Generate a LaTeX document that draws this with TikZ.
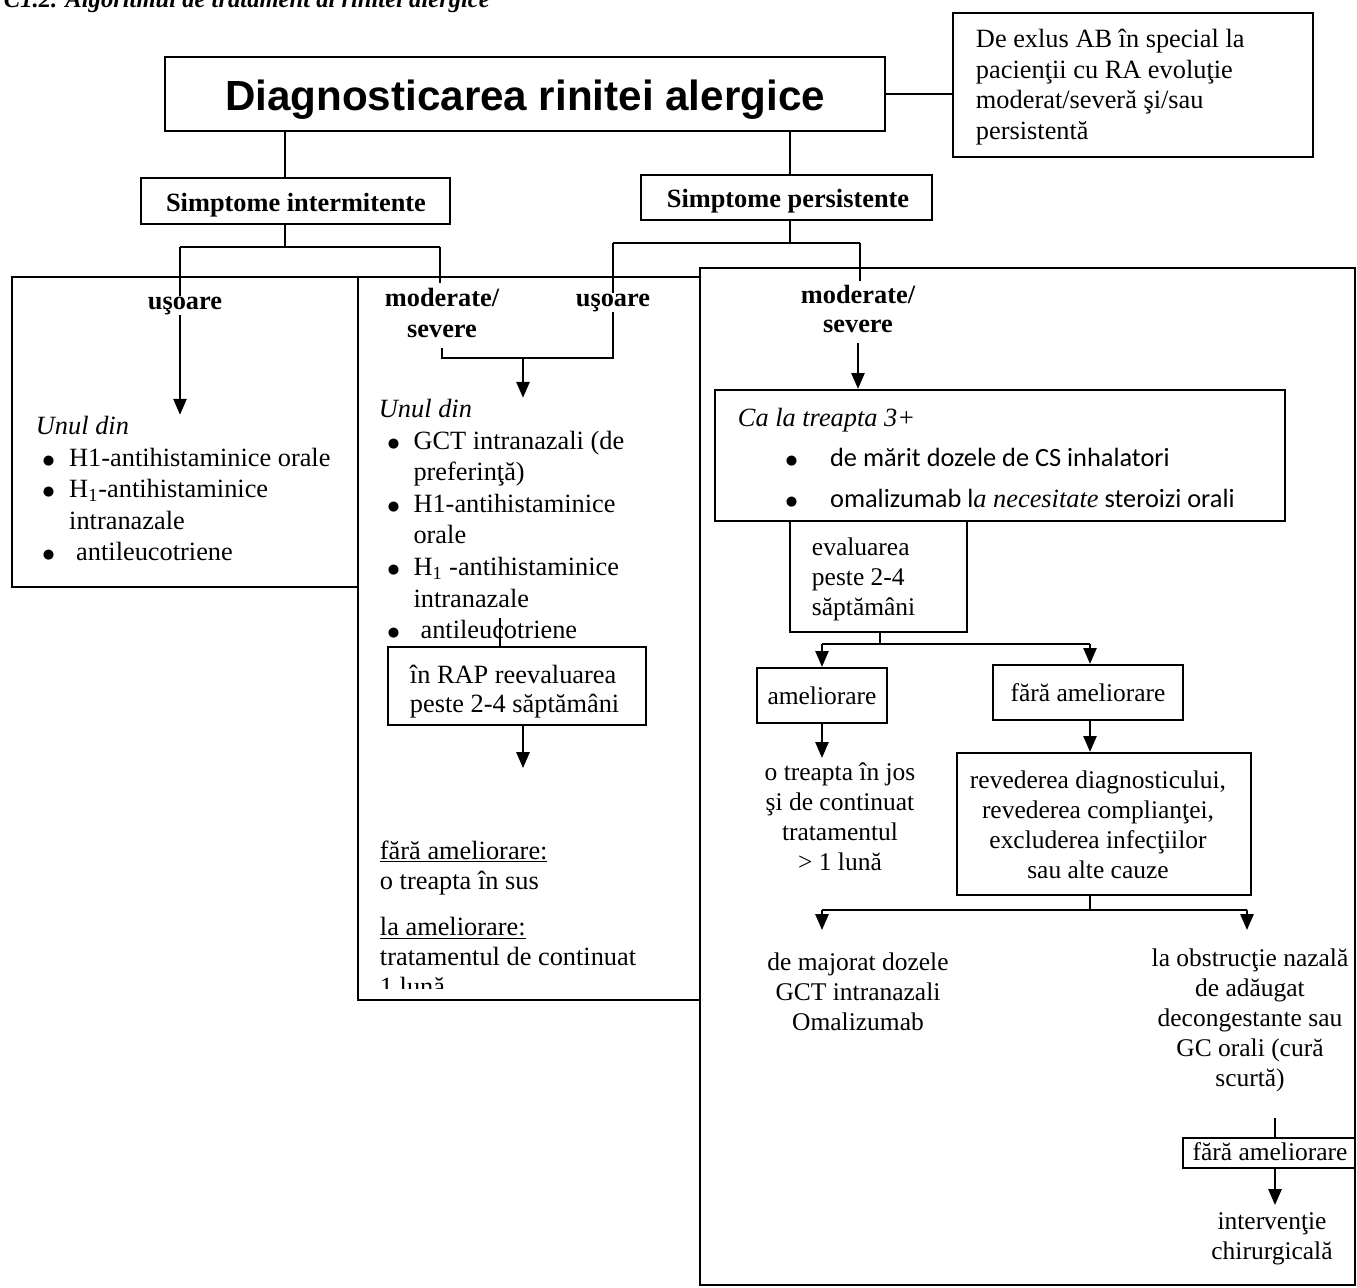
\documentclass[tikz,border=0pt]{standalone}
\usepackage{fontspec}
\setmainfont{Liberation Serif}
\newfontfamily\headfont{Liberation Sans}
\newfontfamily\calfont{Carlito}
\newfontfamily\dotfont{DejaVu Sans}
\usetikzlibrary{arrows.meta,fit}

\newcommand{\txtrows}[2]{\begin{tabular}[t]{@{}#1@{}}#2\end{tabular}}
\newcommand{\dotb}{\raisebox{1.1pt}{\dotfont\fontsize{7.5}{8}\selectfont ●}}

\begin{document}
\begin{tikzpicture}[
    x=0.02cm, y=-0.02cm, line width=1.1pt,
    >={Triangle[length=9pt,width=7.5pt]},
    box/.style={draw, line width=1.3pt, inner sep=0pt},
    txt/.style={inner sep=0pt, font=\fontsize{15}{18}\selectfont},
    rtxt/.style={inner sep=0pt, font=\fontsize{14.5}{17.2}\selectfont},
    lbl/.style={inner sep=0pt, font=\fontsize{15}{18}\selectfont\bfseries}
  ]
  \useasboundingbox (0,0) rectangle (1357,1288);

  % heading, cut by the page edge
  \node[anchor=base west, inner sep=0pt, font=\fontsize{14}{16}\selectfont\bfseries\itshape] (head) at (3,8) {C1.2. Algoritmul de tratament al rinitei alergice};

  % top level
  \node[box, fit={(165,57)(885,131)}] (diag) {};
  \node[anchor=base, inner sep=0pt, font=\headfont\fontsize{24}{28}\selectfont\bfseries] (diagT) at (525,110) {Diagnosticarea rinitei alergice};
  \node[box, fit={(953,13)(1313,157)}] (note) {};
  \node[txt, anchor=base west, font=\fontsize{15}{17.3}\selectfont] (noteT) at (975,48) {\txtrows{l}{De exlus AB în special la\\pacienţii cu RA evoluţie\\moderat/severă şi/sau\\persistentă}};
  \node[box, fit={(141,178)(450,224)}] (inter) {};
  \node[lbl, anchor=base] (interT) at (296,211) {Simptome intermitente};
  \node[box, fit={(641,175)(932,220)}] (pers) {};
  \node[lbl, anchor=base] (persT) at (788,207) {Simptome persistente};

  % panels
  \node[box, fit={(12,277)(358,587)}] (leftpan) {};
  \node[box, fit={(358,277)(700,1000)}] (midpan) {};
  \node[box, fit={(700,268)(1355,1285)}] (rightpan) {};

  % severity labels
  \node[lbl, anchor=base] (uso1) at (185,309) {uşoare};
  \node[lbl, anchor=base] (mod1) at (442,306) {\txtrows{c}{moderate/\\severe}};
  \node[lbl, anchor=base] (uso2) at (613,306) {uşoare};
  \node[lbl, anchor=base, font=\fontsize{15}{17}\selectfont\bfseries] (mod2) at (858,303) {\txtrows{c}{moderate/\\severe}};

  % left panel
  \node[txt, anchor=base west] (unul1) at (35,434) {\textit{Unul din}};
  \node[txt, anchor=base west] (list1) at (42,466) {\txtrows{l@{\hspace{8.4pt}}l}{%
      \dotb & H1-antihistaminice orale\\
      \dotb & H\textsubscript{1}-antihistaminice\\
      & intranazale\\
      \dotb & \hspace{4pt}antileucotriene}};

  % middle panel
  \node[txt, anchor=base west] (unul2) at (378,417) {\textit{Unul din}};
  \node[txt, anchor=base west] (list2) at (387,449) {\txtrows{l@{\hspace{8pt}}l}{%
      \dotb & GCT intranazali (de\\
      & preferinţă)\\
      \dotb & H1-antihistaminice\\
      & orale\\
      \dotb & H\textsubscript{1} -antihistaminice\\
      & intranazale\\
      \dotb & \hspace{4pt}antileucotriene}};
  \node[box, fit={(388,647)(646,725)}] (rap) {};
  \node[txt, anchor=base west, font=\fontsize{15}{17}\selectfont] (rapT) at (409,683) {\txtrows{l}{în RAP reevaluarea\\peste 2-4 săptămâni}};
  \begin{scope}
    \clip (358,277) rectangle (700,988);
    \node[txt, anchor=base west, font=\fontsize{15}{17.2}\selectfont] (pasi) at (379,859) {\txtrows{l}{%
        \underline{fără ameliorare:}\\
        o treapta în sus\\[9pt]
        \underline{la ameliorare:}\\
        tratamentul de continuat\\
        1 lună}};
  \end{scope}

  % right panel
  \node[box, fit={(715,390)(1285,521)}] (ca) {};
  \node[txt, anchor=base west] (cah) at (737,426) {\textit{Ca la treapta 3+}};
  \begin{scope}
    \clip (715,390) rectangle (1285,509);
    \node[txt, anchor=base west] (calist) at (785,466) {\txtrows{l@{\hspace{18.6pt}}l}{%
        \dotb & \calfont de mărit dozele de CS inhalatori\\[5.8pt]
        \dotb & \calfont omalizumab l\textit{\rmfamily a necesitate} steroizi orali}};
  \end{scope}
  \node[box, fit={(790,521)(967,632)}] (eval) {};
  \node[rtxt, anchor=base west] (evalT) at (811,555) {\txtrows{l}{evaluarea\\peste 2-4\\săptămâni}};
  \node[box, fit={(757,668)(887,723)}] (amel) {};
  \node[rtxt, anchor=base] (amelT) at (822,704) {ameliorare};
  \node[box, fit={(993,665)(1183,720)}] (fara) {};
  \node[rtxt, anchor=base] (faraT) at (1088,701) {fără ameliorare};
  \node[rtxt, anchor=base] (jos) at (840,780) {\txtrows{c}{o treapta în jos\\şi de continuat\\tratamentul\\> 1 lună}};
  \node[box, fit={(957,753)(1251,895)}] (rev) {};
  \node[rtxt, anchor=base] (revT) at (1098,788) {\txtrows{c}{revederea diagnosticului,\\revederea complianţei,\\excluderea infecţiilor\\sau alte cauze}};
  \node[rtxt, anchor=base] (maj) at (858,970) {\txtrows{c}{de majorat dozele\\GCT intranazali\\Omalizumab}};
  \node[rtxt, anchor=base] (obs) at (1250,966) {\txtrows{c}{la obstrucţie nazală\\de adăugat\\decongestante sau\\GC orali (cură\\scurtă)}};
  \node[box, fit={(1183,1138)(1355,1168)}] (fara2) {};
  \node[rtxt, anchor=base] (fara2T) at (1270,1160) {fără ameliorare};
  \node[rtxt, anchor=base] (interv) at (1272,1229) {\txtrows{c}{intervenţie\\chirurgicală}};

  % junctions
  \coordinate (iA) at (285,247);
  \coordinate (iL) at (180,247);
  \coordinate (iR) at (440,247);
  \coordinate (pA) at (790,243);
  \coordinate (pL) at (613,243);
  \coordinate (pR) at (860,243);
  \coordinate (mM) at (523,358);
  \coordinate (rl) at (500,618);
  \coordinate (ra) at (523,768);
  \coordinate (eA) at (880,644);
  \coordinate (eL) at (822,644);
  \coordinate (eR) at (1090,644);
  \coordinate (rA) at (1090,910);
  \coordinate (rL) at (822,910);
  \coordinate (rR) at (1247,910);
  \coordinate (rLe) at (822,930);
  \coordinate (rRe) at (1247,930);
  \coordinate (fA) at (1275,1118);
  \coordinate (fB) at (1275,1205);

  % connectors
  \draw (diag.east) -- (diag.east -| note.west);
  \draw (diag.south -| iA) -- (inter.north -| iA);
  \draw (inter.south -| iA) -- (iA);
  \draw (iL) -- (iR);
  \draw (iL) -- (iL |- uso1.north);
  \draw (iR) -- (iR |- mod1.north);
  \draw (diag.south -| pA) -- (pers.north -| pA);
  \draw (pers.south -| pA) -- (pA);
  \draw (pL) -- (pR);
  \draw (pL) -- (pL |- uso2.north);
  \draw (pR) -- (pR |- mod2.north);
  \draw[->] (iL |- uso1.south) -- (iL |- unul1.north);
  \draw (mod1.south) |- (mM) -| (uso2.south);
  \draw[->] (mM) -- (mM |- unul2.north);
  \draw (rl) -- (rl |- rap.north);
  \draw[->] (rap.south -| ra) -- (ra);
  \draw[->] (mod2.south) -- (mod2.south |- ca.north);
  \draw (eval.south -| eA) -- (eA);
  \draw (eL) -- (eR);
  \draw[->] (eL) -- (eL |- amel.north);
  \draw[->] (eR) -- (eR |- fara.north);
  \draw[->] (amel.south -| eL) -- (eL |- jos.north);
  \draw[->] (fara.south -| eR) -- (eR |- rev.north);
  \draw (rev.south -| rA) -- (rA);
  \draw (rL) -- (rR);
  \draw[->] (rL) -- (rLe);
  \draw[->] (rR) -- (rRe);
  \draw (fA) -- (fA |- fara2.north);
  \draw[->] (fara2.south -| fA) -- (fB);
\end{tikzpicture}
\end{document}
